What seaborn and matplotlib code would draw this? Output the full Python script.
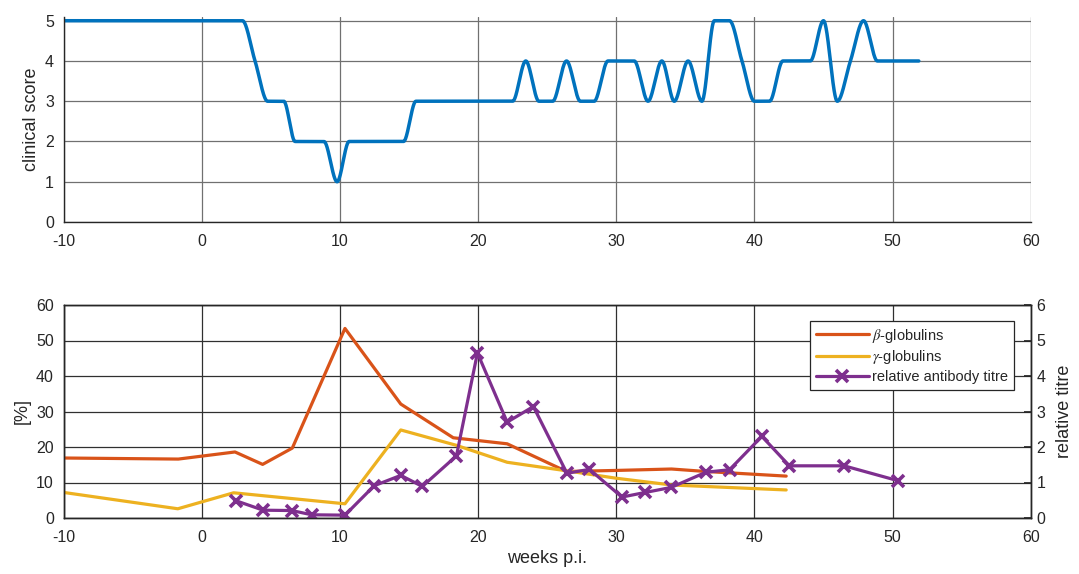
import numpy as np
import pandas as pd
import matplotlib
matplotlib.use("Agg")
import matplotlib.pyplot as plt
import seaborn as sns

# ---------------- data ----------------
# clinical score knots (weeks p.i., score)
score_weeks = [-10, 2.94, 3.85, 4.76, 5.93, 6.75, 8.84, 9.79, 10.66, 14.6, 15.5,
               22.5, 23.45, 24.4, 25.4, 26.4, 27.4, 28.4, 29.4, 31.3, 32.3, 33.3,
               34.2, 35.2, 36.2, 37.1, 38.2, 39.1, 40.0, 41.1, 42.06, 44.05, 45.0,
               46.0, 46.95, 47.9, 48.9, 51.9]
score_values = [5, 5, 4, 3, 3, 2, 2, 1, 2, 2, 3,
                3, 4, 3, 3, 4, 3, 3, 4, 4, 3, 4,
                3, 4, 3, 5, 5, 4, 3, 3, 4, 4, 5,
                3, 4, 5, 4, 4]

beta_weeks = [-10, -1.7, 2.4, 4.4, 6.55, 10.36, 14.4, 18.2, 22.1, 26.4, 30.0, 34.0, 36.5, 42.3]
beta_values = [16.9, 16.6, 18.6, 15.1, 19.7, 53.4, 32.1, 22.6, 20.9, 13.1, 13.4, 13.8, 13.1, 11.8]

gamma_weeks = [-10, -1.74, 2.3, 10.36, 14.4, 18.4, 22.1, 26.4, 30.0, 34.0, 42.3]
gamma_values = [7.2, 2.6, 7.1, 4.0, 24.8, 20.5, 15.7, 13.3, 11.2, 9.3, 7.9]

titre_weeks = [2.44, 4.44, 6.5, 7.97, 10.36, 12.48, 14.4, 15.96, 18.43, 19.95, 22.1,
               24.0, 26.43, 28.06, 30.41, 32.1, 33.96, 36.5, 38.2, 40.54, 42.53,
               46.49, 50.4]
titre_values = [0.49, 0.22, 0.21, 0.09, 0.08, 0.91, 1.2, 0.89, 1.75, 4.65, 2.7,
                3.14, 1.26, 1.37, 0.59, 0.72, 0.86, 1.29, 1.36, 2.3, 1.47,
                1.47, 1.05]

x_ticks = [-10, 0, 10, 20, 30, 40, 50, 60]
score_ticks = [0, 1, 2, 3, 4, 5]
pct_ticks = [0, 10, 20, 30, 40, 50, 60]
titre_ticks = [0, 1, 2, 3, 4, 5, 6]


# shape-preserving piecewise cubic (pchip) used only to draw the smooth score curve
def pchip_curve(x, y, n=3000):
    x = np.asarray(x, float)
    y = np.asarray(y, float)
    h = np.diff(x)
    delta = np.diff(y) / h
    d = np.zeros_like(y)
    for k in range(1, len(x) - 1):
        if delta[k - 1] * delta[k] > 0:
            w1 = 2 * h[k] + h[k - 1]
            w2 = h[k] + 2 * h[k - 1]
            d[k] = (w1 + w2) / (w1 / delta[k - 1] + w2 / delta[k])
    xs = np.linspace(x[0], x[-1], n)
    idx = np.clip(np.searchsorted(x, xs) - 1, 0, len(x) - 2)
    t = (xs - x[idx]) / h[idx]
    h00 = 2 * t**3 - 3 * t**2 + 1
    h10 = t**3 - 2 * t**2 + t
    h01 = -2 * t**3 + 3 * t**2
    h11 = t**3 - t**2
    ys = h00 * y[idx] + h10 * h[idx] * d[idx] + h01 * y[idx + 1] + h11 * h[idx] * d[idx + 1]
    return xs, ys


# ---------------- style ----------------
sns.set_theme(style="white")
plt.rcParams["font.family"] = ["Liberation Sans", "DejaVu Sans"]
plt.rcParams["mathtext.fontset"] = "stix"
plt.rcParams["axes.unicode_minus"] = False

DARK = "#262626"
TICK_FS = 11.5
LABEL_FS = 13
W, H = 1079, 574
fig = plt.figure(figsize=(W / 100, H / 100), dpi=100)

x0, x1 = 63.7, 1030.7
ax1 = fig.add_axes([x0 / W, 1 - 222 / H, (x1 - x0) / W, (222 - 17.3) / H])
ax2 = fig.add_axes([x0 / W, 1 - 518 / H, (x1 - x0) / W, (518 - 305) / H])

# ---------------- top: clinical score ----------------
cx, cy = pchip_curve(score_weeks, score_values)
sns.lineplot(x=cx, y=cy, ax=ax1, color="#0072BD", lw=2.5, sort=False)
ax1.set_xlim(-10, 60)
ax1.set_ylim(0, 5.085)
ax1.set_xticks(x_ticks)
ax1.set_yticks(score_ticks)
ax1.grid(True, color="#707070", lw=0.9)
ax1.set_axisbelow(True)
for s in ["top", "right"]:
    ax1.spines[s].set_visible(False)
for s in ["left", "bottom"]:
    ax1.spines[s].set_color(DARK)
    ax1.spines[s].set_linewidth(1.0)
ax1.tick_params(labelsize=TICK_FS, colors=DARK, direction="in", length=0)
ax1.tick_params(axis="x", pad=8.5)
ax1.tick_params(axis="y", pad=7)
ax1.set_ylabel("clinical score", fontsize=LABEL_FS, color=DARK)
ax1.yaxis.set_label_coords(-0.025, 0.5)

# ---------------- bottom: globulins + titre ----------------
sns.lineplot(x=beta_weeks, y=beta_values, ax=ax2, color="#D95319", lw=2.3,
             label=r"$\beta$-globulins", legend=False)
sns.lineplot(x=gamma_weeks, y=gamma_values, ax=ax2, color="#EDB120", lw=2.3,
             label=r"$\gamma$-globulins", legend=False)
ax2.set_xlim(-10, 60)
ax2.set_ylim(0, 60)
ax2.set_xticks(x_ticks)
ax2.set_yticks(pct_ticks)
ax2.grid(True, color="#303030", lw=0.9)
ax2.set_axisbelow(True)
for s in ax2.spines.values():
    s.set_color(DARK)
    s.set_linewidth(1.0)
ax2.tick_params(labelsize=TICK_FS, colors=DARK, direction="in", length=0)
ax2.tick_params(axis="x", pad=8.5)
ax2.tick_params(axis="y", pad=7)
ax2.set_ylabel("[%]", fontsize=LABEL_FS, color=DARK)
ax2.yaxis.set_label_coords(-0.034, 0.5)
ax2.set_xlabel("weeks p.i.", fontsize=LABEL_FS, color=DARK)
ax2.xaxis.set_label_coords(0.5, -0.15)

ax3 = ax2.twinx()
sns.lineplot(x=titre_weeks, y=titre_values, ax=ax3, color="#7E2F8E", lw=2.3,
             marker="x", markersize=9, markeredgewidth=2.6, markeredgecolor="#7E2F8E",
             label="relative antibody titre", legend=False)
ax3.set_ylim(0, 6)
ax3.set_yticks(titre_ticks)
for s in ax3.spines.values():
    s.set_color(DARK)
    s.set_linewidth(1.0)
ax3.tick_params(labelsize=TICK_FS, colors=DARK, direction="in", length=5, pad=4)
ax3.set_ylabel("relative titre", fontsize=LABEL_FS, color=DARK)
ax3.yaxis.set_label_coords(1.026, 0.5)

h1, l1 = ax2.get_legend_handles_labels()
h2, l2 = ax3.get_legend_handles_labels()
leg = ax3.legend(h1 + h2, l1 + l2, loc="upper right",
                 bbox_to_anchor=(1014 / W, 1 - 320.7 / H), bbox_transform=fig.transFigure,
                 borderaxespad=0, fontsize=10.5, frameon=True, fancybox=False,
                 framealpha=1, edgecolor=DARK, handlelength=3.6, handletextpad=0.25,
                 labelspacing=0.25, borderpad=0.4)
leg.get_frame().set_linewidth(0.9)
for t in leg.get_texts():
    t.set_color(DARK)

fig.savefig("out.png", dpi=100)
